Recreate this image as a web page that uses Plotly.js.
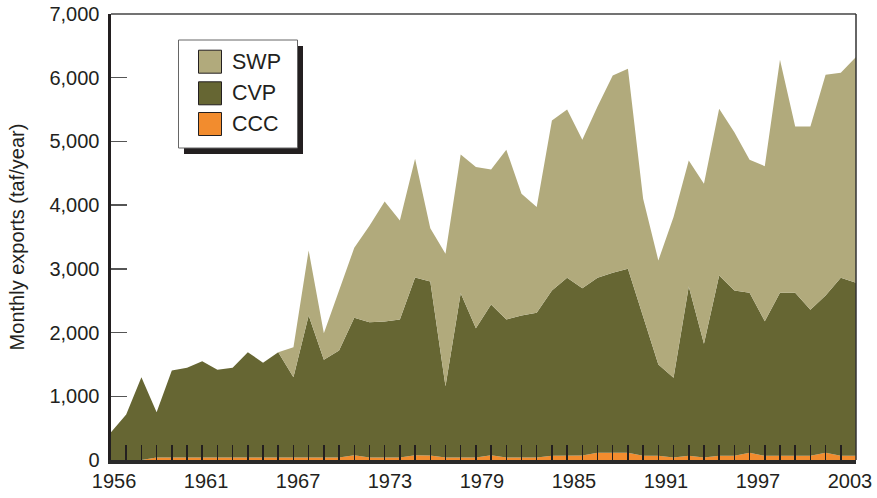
<!DOCTYPE html>
<html>
<head>
<meta charset="utf-8">
<script src="https://cdn.plot.ly/plotly-3.0.1.min.js"></script>
<style>
html,body{margin:0;padding:0;background:#fff;}
#chart{width:877px;height:498px;}
</style>
</head>
<body>
<div id="chart"></div>
<script>
// Stacked components (taf/year), one value per period, bottom to top
const ccc = [0,0,0,40,40,40,40,40,40,40,40,40,40,40,40,40,75,40,40,40,75,70,40,40,40,75,40,40,40,65,70,70,115,115,115,65,65,40,65,40,65,65,115,65,65,65,65,115,65,65];
const cvp = [436,714,1300,710,1365,1407,1511,1376,1407,1652,1486,1652,1260,2228,1533,1679,2157,2123,2134,2166,2790,2732,1119,2579,2029,2366,2166,2228,2271,2596,2790,2627,2745,2824,2887,2203,1434,1250,2659,1784,2832,2596,2510,2114,2560,2560,2293,2468,2795,2717];
const swp = [0,0,0,0,0,0,0,0,0,0,0,0,471,1021,418,931,1099,1514,1884,1554,1864,837,2078,2177,2528,2120,2664,1911,1658,2669,2643,2330,2690,3097,3140,1833,1633,2522,1978,2512,2617,2485,2088,2433,3658,2611,2878,3464,3219,3542];

const seriesNames = ['SWP','CVP','CCC'];
const seriesColors = {SWP:'#b1aa7c', CVP:'#666633', CCC:'#f28c2e'};

const xLabels = ['1956','1961','1967','1973','1979','1985','1991','1997','2003'];
const labelPos = [0.2,6.25,12.3,18.35,24.4,30.45,36.5,42.55,48.6];
const yTicks = [0,1000,2000,3000,4000,5000,6000,7000];

const idx = cvp.map((_, i) => i);
const periodTicks = idx.slice(1, idx.length - 1);

const font = 'Liberation Sans, Arial, Helvetica, sans-serif';
const ink = '#231f20';
const fs = 20;

function area(name, y) {
  return {
    type: 'scatter', x: idx, y: y, name: name,
    stackgroup: 'one', mode: 'lines',
    line: {width: 0, color: seriesColors[name]},
    fillcolor: seriesColors[name],
    hoverinfo: 'skip', showlegend: false
  };
}

const data = [area('CCC', ccc), area('CVP', cvp), area('SWP', swp),
  {type:'scatter', x:[], y:[], xaxis:'x2', yaxis:'y', mode:'markers', showlegend:false, hoverinfo:'skip'}];

// plot area geometry used for hand-drawn legend (paper coords)
const L = 111, R = 21, T = 14, B = 38, W = 877, H = 498;
const pw = W - L - R, ph = H - T - B;
const px = v => (v - L) / pw;
const py = v => (H - B - v) / ph;

const shapes = [
  {type:'line', xref:'paper', yref:'paper', x0:0, x1:1, y0:1, y1:1, line:{color:'#444', width:1.5}, layer:'above'},
  {type:'line', xref:'paper', yref:'paper', x0:1, x1:1, y0:0, y1:1, line:{color:'#333', width:1.5}, layer:'above'},
  {type:'rect', xref:'paper', yref:'paper', x0:px(184), x1:px(303), y0:py(154), y1:py(46), fillcolor:ink, line:{width:0}, layer:'above'},
  {type:'rect', xref:'paper', yref:'paper', x0:px(178.5), x1:px(297.5), y0:py(148), y1:py(40), fillcolor:'#fff', line:{color:'#666', width:1}, layer:'above'}
];
const annotations = [];
const rowY = [61.7, 93.3, 124];
seriesNames.forEach((n, i) => {
  shapes.push({type:'rect', xref:'paper', yref:'paper', x0:px(198.5), x1:px(221.5), y0:py(rowY[i]+11.5), y1:py(rowY[i]-11.5),
    fillcolor:seriesColors[n], line:{color:ink, width:1}, layer:'above'});
  annotations.push({xref:'paper', yref:'paper', x:px(229.5), y:py(rowY[i]), xanchor:'left', yanchor:'middle',
    text:n, showarrow:false, font:{family:font, size:21.5, color:ink}});
});

const layout = {
  width: W, height: H,
  margin: {l:L, r:R, t:T, b:B, pad:0},
  paper_bgcolor:'#fff', plot_bgcolor:'#fff',
  showlegend: false,
  font: {family:font, size:fs, color:ink},
  xaxis: {
    range:[0, idx.length - 1], tickmode:'array', tickvals:periodTicks,
    showticklabels:false, ticks:'inside', ticklen:15, tickwidth:1.5, tickcolor:ink,
    showline:true, linewidth:3.5, linecolor:'#2a2a2a', showgrid:false, zeroline:false, fixedrange:true
  },
  xaxis2: {
    overlaying:'x', side:'bottom', range:[0, idx.length - 1], tickmode:'array',
    tickvals:labelPos, ticktext:xLabels, ticks:'', showline:false, showgrid:false, zeroline:false,
    tickfont:{family:font, size:fs, color:ink}, ticklabelstandoff:7
  },
  yaxis: {
    range:[0, 7000], tickmode:'array', tickvals:yTicks, tickformat:',',
    ticks:'inside', ticklen:16, tickwidth:1.3, tickcolor:'#555',
    showline:true, linewidth:3.5, linecolor:ink, showgrid:false, zeroline:false,
    tickfont:{family:font, size:fs, color:ink}, ticklabelstandoff:4,
    title:{text:'Monthly exports (taf/year)', standoff:20, font:{family:font, size:fs, color:ink}}
  },
  shapes: shapes,
  annotations: annotations
};

Plotly.newPlot('chart', data, layout, {staticPlot:true, displayModeBar:false});
</script>
</body>
</html>
